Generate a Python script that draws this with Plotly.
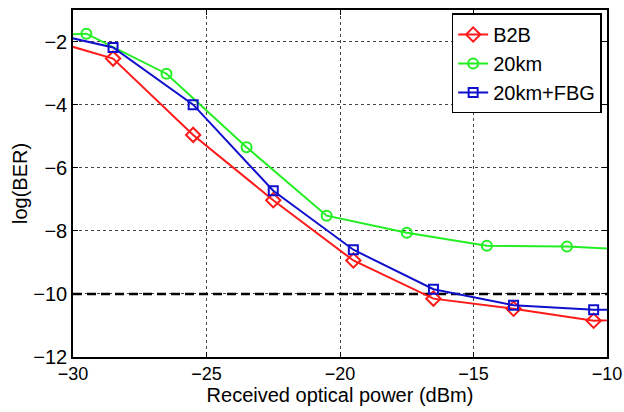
import plotly.graph_objects as go

# Data (points beyond the axis range make the lines run to the frame edges)
x_b2b = [-31.5, -28.5, -25.5, -22.5, -19.5, -16.5, -13.5, -10.5, -7.5]
y_b2b = [-1.80, -2.54, -4.96, -7.03, -8.94, -10.15, -10.47, -10.85, -10.75]

x_20km = [-32.5, -29.5, -26.5, -23.5, -20.5, -17.5, -14.5, -11.5, -8.5]
y_20km = [-1.85, -1.75, -3.02, -5.35, -7.52, -8.06, -8.47, -8.50, -8.62]

x_fbg = [-31.5, -28.5, -25.5, -22.5, -19.5, -16.5, -13.5, -10.5, -7.5]
y_fbg = [-1.61, -2.19, -4.00, -6.73, -8.60, -9.85, -10.36, -10.50, -10.50]

x_thr = [-30, -10]
y_thr = [-10, -10]

x_ticks = [-30, -25, -20, -15, -10]
y_ticks = [-12, -10, -8, -6, -4, -2]

FONT = "Liberation Sans, Arial, sans-serif"

fig = go.Figure()
fig.add_trace(go.Scatter(x=x_thr, y=y_thr, mode="lines", showlegend=False,
                         line=dict(color="black", width=2.5, dash="9px,5px")))
fig.add_trace(go.Scatter(x=x_b2b, y=y_b2b, mode="lines+markers", name="B2B",
                         line=dict(color="#ff1a1a", width=2),
                         marker=dict(symbol="diamond-open", size=11, color="#ff1a1a",
                                     line=dict(width=2))))
fig.add_trace(go.Scatter(x=x_20km, y=y_20km, mode="lines+markers", name="20km",
                         line=dict(color="#22ee22", width=2),
                         marker=dict(symbol="circle-open", size=10, color="#22ee22",
                                     line=dict(width=2))))
fig.add_trace(go.Scatter(x=x_fbg, y=y_fbg, mode="lines+markers", name="20km+FBG",
                         line=dict(color="#1010cc", width=2),
                         marker=dict(symbol="square-open", size=9, color="#1010cc",
                                     line=dict(width=2))))

axis_common = dict(showline=True, linecolor="black", linewidth=1.5, mirror="ticks",
                   ticks="inside", ticklen=5, tickcolor="black",
                   showgrid=True, gridcolor="#444444", griddash="dot", gridwidth=1,
                   zeroline=False, automargin=False, ticklabeloverflow="allow")

fig.update_xaxes(range=[-30, -10], tickvals=x_ticks,
                 tickfont=dict(family=FONT, size=18, color="black"),
                 title=dict(text="Received optical power (dBm)",
                            font=dict(family=FONT, size=20, color="black"), standoff=2),
                 **axis_common)
fig.update_yaxes(range=[-12, -1], tickvals=y_ticks,
                 tickfont=dict(family=FONT, size=20, color="black"),
                 title=dict(text="log(BER)",
                            font=dict(family=FONT, size=20, color="black"), standoff=0),
                 **axis_common)

fig.update_layout(
    width=624, height=412,
    margin=dict(l=73, r=17, t=10, b=55),
    paper_bgcolor="white", plot_bgcolor="white",
    font=dict(family=FONT, size=20, color="black"),
    legend=dict(x=0.99, y=0.99, xanchor="right", yanchor="top",
                bgcolor="white", bordercolor="black", borderwidth=1.5,
                font=dict(family=FONT, size=20, color="black"),
                tracegroupgap=0, itemwidth=30),
    showlegend=True,
)

fig.write_html("out.html", config={"displayModeBar": False},
               post_script="document.body.style.margin='0';document.body.style.overflow='hidden';")
